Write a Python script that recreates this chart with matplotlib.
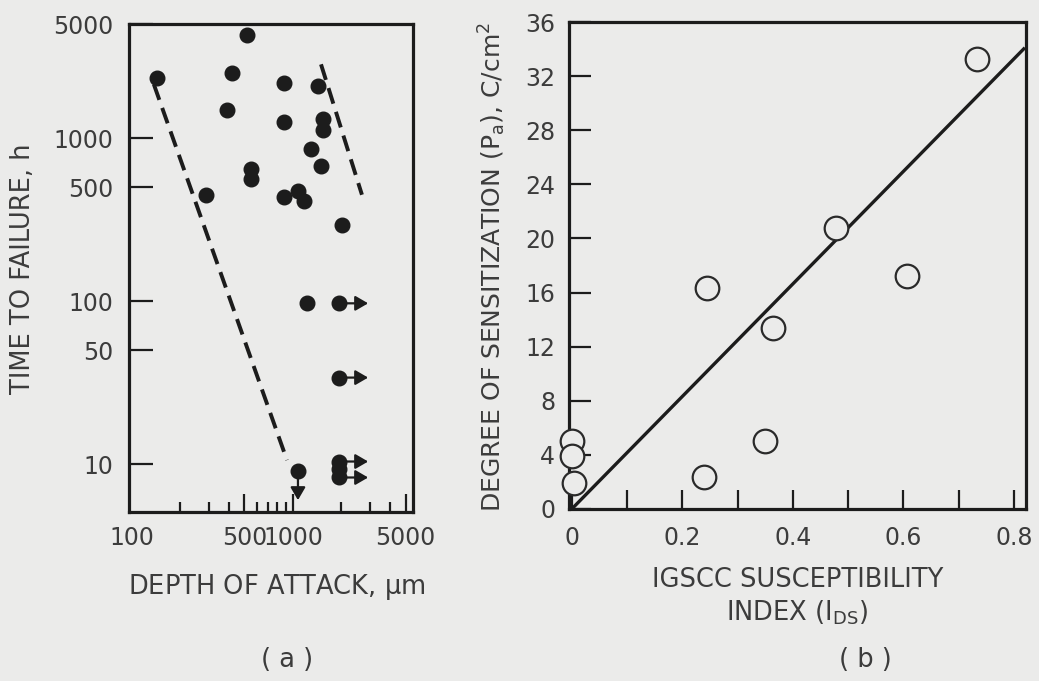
import matplotlib
matplotlib.use("Agg")
import matplotlib.pyplot as plt
from matplotlib.ticker import FixedLocator, NullFormatter, NullLocator

# ---------------- data: panel (a) ----------------
depth_fail = [143, 418, 518, 389, 288, 548, 548, 879, 879, 879, 1074, 1170,
              1290, 1430, 1536, 1536, 1490, 2010, 1220]
time_fail = [2320, 2490, 4310, 1480, 449, 647, 562, 2165, 1250, 436, 475, 413,
             857, 2075, 1306, 1120, 675, 295, 98]
depth_runout_right = [1930, 1930, 1930, 1930, 1930]
time_runout_right = [97, 34, 10.4, 9.4, 8.3]
arrow_right_flags = [True, True, True, False, True]
depth_runout_down = [1074]
time_runout_down = [9.1]
band_lower_x = [137, 918]
band_lower_y = [2130, 10.6]
band_upper_x = [1493, 2680]
band_upper_y = [2830, 449]
a_xticks = [100, 500, 1000, 5000]
a_xminor = [200, 300, 400, 600, 700, 800, 900, 2000, 3000, 4000]
a_yticks = [10, 50, 100, 500, 1000, 5000]

# ---------------- data: panel (b) ----------------
ids = [0.0, 0.0, 0.004, 0.239, 0.244, 0.349, 0.364, 0.479, 0.606, 0.734]
pa = [5.0, 3.9, 1.9, 2.4, 16.3, 5.0, 13.4, 20.8, 17.2, 33.3]
fit_x = [0.0, 0.82]
fit_y = [0.0, 34.1]
b_xticks = [0, 0.2, 0.4, 0.6, 0.8]
b_xminor = [0.1, 0.3, 0.5, 0.7]
b_yticks = [0, 4, 8, 12, 16, 20, 24, 28, 32, 36]

BG = "#ebebea"
INK = "#1c1c1c"
TXT = "#3c3c3c"
plt.rcParams["font.family"] = ["DejaVu Sans"]
plt.rcParams["mathtext.default"] = "regular"

fig = plt.figure(figsize=(10.39, 6.81), dpi=100, facecolor=BG)
W, H = 1039, 681

def px_axes(x0, y0, x1, y1):
    return fig.add_axes([x0 / W, 1 - y1 / H, (x1 - x0) / W, (y1 - y0) / H])

TICKFS = 17
LABFS = 18.5

# ---------------- panel (a) ----------------
ax1 = px_axes(129, 24, 413, 512)
ax1.set_facecolor(BG)
ax1.set_xscale("log")
ax1.set_yscale("log")
ax1.set_xlim(96, 5560)
ax1.set_ylim(5.1, 5000)

ax1.plot(band_lower_x, band_lower_y, color=INK, lw=2.8, dashes=(4.2, 2.2),
         solid_capstyle="butt", zorder=2)
ax1.plot(band_upper_x, band_upper_y, color=INK, lw=2.8, dashes=(4.2, 2.2),
         solid_capstyle="butt", zorder=2)

dot = dict(marker="o", ms=10.5, color=INK, ls="none", zorder=4)
ax1.plot(depth_fail, time_fail, **dot)
ax1.plot(depth_runout_right, time_runout_right, **dot)
ax1.plot(depth_runout_down, time_runout_down, **dot)

arr = dict(arrowstyle="<|-,head_length=0.55,head_width=0.32", color=INK, lw=1.6,
           shrinkA=0, shrinkB=0, mutation_scale=14)
for x, y, f in zip(depth_runout_right, time_runout_right, arrow_right_flags):
    if f:
        ax1.annotate("", xy=(x, y), xytext=(21, 0), textcoords="offset points",
                     arrowprops=arr, zorder=3)
for x, y in zip(depth_runout_down, time_runout_down):
    ax1.annotate("", xy=(x, y), xytext=(0, -21), textcoords="offset points",
                 arrowprops=arr, zorder=3)

ax1.xaxis.set_major_locator(FixedLocator(a_xticks))
ax1.xaxis.set_minor_locator(FixedLocator(a_xminor))
ax1.set_xticklabels([str(v) for v in a_xticks])
ax1.xaxis.set_minor_formatter(NullFormatter())
ax1.yaxis.set_major_locator(FixedLocator(a_yticks))
ax1.yaxis.set_minor_locator(NullLocator())
ax1.set_yticklabels([str(v) for v in a_yticks])

ax1.tick_params(axis="x", which="major", direction="in", length=13, width=1.6,
                color=INK, labelsize=TICKFS, labelcolor=TXT, pad=10)
ax1.tick_params(axis="x", which="minor", direction="in", length=7, width=1.6,
                color=INK)
ax1.tick_params(axis="y", which="major", direction="in", length=17, width=1.6,
                color=INK, labelsize=TICKFS, labelcolor=TXT, pad=11)
ax1.xaxis.get_major_ticks()[0].tick1line.set_visible(False)
for s in ax1.spines.values():
    s.set_linewidth(2.3)
    s.set_color(INK)

ax1.set_xlabel("DEPTH OF ATTACK, $\\mu$m", fontsize=LABFS, color=TXT)
ax1.xaxis.label.set_va("center")
ax1.xaxis.set_label_coords(0.521, -0.154)
ax1.set_ylabel("TIME TO FAILURE, h", fontsize=LABFS, color=TXT)
ax1.yaxis.label.set_va("center")
ax1.yaxis.set_label_coords(-0.373, 0.498)

# ---------------- panel (b) ----------------
ax2 = px_axes(569, 22, 1026, 509)
ax2.set_facecolor(BG)
ax2.set_xlim(-0.005, 0.822)
ax2.set_ylim(0, 36)

ax2.plot(fit_x, fit_y, color=INK, lw=2.4, zorder=2, solid_capstyle="butt")
ax2.plot(ids, pa, marker="o", ls="none", ms=17, mfc=BG, mec="#2a2a2a",
         mew=1.6, zorder=4, clip_on=False)

ax2.xaxis.set_major_locator(FixedLocator(b_xticks))
ax2.xaxis.set_minor_locator(FixedLocator(b_xminor))
ax2.set_xticklabels(["0", "0.2", "0.4", "0.6", "0.8"])
ax2.yaxis.set_major_locator(FixedLocator(b_yticks))
ax2.set_yticklabels([str(v) for v in b_yticks])
ax2.tick_params(axis="x", which="both", direction="in", length=14, width=1.6,
                color=INK, labelsize=TICKFS, labelcolor=TXT, pad=12)
ax2.tick_params(axis="y", which="major", direction="in", length=16, width=1.6,
                color=INK, labelsize=TICKFS, labelcolor=TXT, pad=10)
for s in ax2.spines.values():
    s.set_linewidth(2.3)
    s.set_color(INK)

ax2.set_xlabel("IGSCC SUSCEPTIBILITY\nINDEX (I$_{DS}$)", fontsize=LABFS,
               color=TXT, linespacing=1.25)
ax2.xaxis.label.set_va("center")
ax2.xaxis.set_label_coords(0.5, -0.18)
ax2.set_ylabel("DEGREE OF SENSITIZATION (P$_{a}$), C/cm$^{2}$", fontsize=18,
               color=TXT)
ax2.yaxis.label.set_va("center")
ax2.yaxis.set_label_coords(-0.1685, 0.497)

fig.text(287 / W, 1 - 660 / H, "( a )", fontsize=LABFS, color=TXT,
         ha="center", va="center")
fig.text(865 / W, 1 - 660 / H, "( b )", fontsize=LABFS, color=TXT,
         ha="center", va="center")

fig.savefig("out.png", dpi=100, facecolor=BG)
